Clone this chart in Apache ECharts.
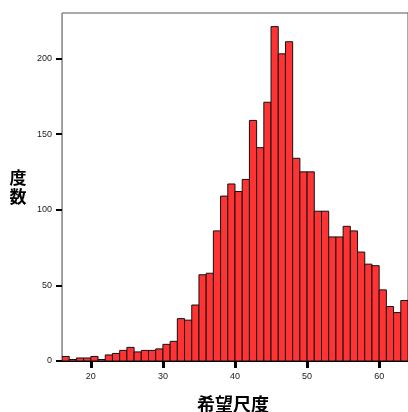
<!DOCTYPE html>
<html>
<head>
<meta charset="utf-8">
<script src="https://cdn.jsdelivr.net/npm/echarts@6/dist/echarts.min.js"></script>
<style>
html,body{margin:0;padding:0;background:#fff;}
#c{width:408px;height:412px;}
</style>
</head>
<body>
<div id="c"></div>
<script>
// Histogram bins: each bin covers [start, start+1)
const binStarts = [16,17,18,19,20,21,22,23,24,25,26,27,28,29,30,31,32,33,34,35,36,37,38,39,40,41,42,43,44,45,46,47,48,49,50,51,52,53,54,55,56,57,58,59,60,61,62,63];
const counts    = [3,1,2,2,3,1,4,5,7,9,6,7,7,8,11,13,28,27,37,57,58,86,109,117,112,120,159,141,171,221,203,211,134,125,125,99,99,82,82,89,86,72,64,63,47,36,32,40];
const xTicks = [20,30,40,50,60];
const yTicks = [0,50,100,150,200];
const xTitle = '希望尺度';
const yTitle = '度\n数';

const data = binStarts.map((s, i) => [s, s + 1, counts[i]]);

const chart = echarts.init(document.getElementById('c'), null, {renderer: 'canvas'});
chart.setOption({
  animation: false,
  backgroundColor: '#fff',
  grid: {
    left: 62, top: 13, width: 348, height: 348,
    show: true, borderColor: '#555', borderWidth: 1, backgroundColor: 'transparent'
  },
  xAxis: {
    type: 'value', min: 16, max: 64,
    axisLine: {show: true, lineStyle: {color: '#000', width: 1}},
    axisTick: {show: true, customValues: xTicks, length: 7, lineStyle: {color: '#000', width: 3}},
    axisLabel: {customValues: xTicks, margin: 11, fontSize: 9, color: '#222', fontFamily: 'Liberation Sans, Arial, sans-serif'},
    splitLine: {show: false}
  },
  yAxis: {
    type: 'value', min: 0, max: 230,
    axisLine: {show: true, lineStyle: {color: '#999', width: 1}},
    axisTick: {show: true, customValues: yTicks, length: 6, lineStyle: {color: '#000', width: 2}},
    axisLabel: {customValues: yTicks, margin: 10, fontSize: 9, color: '#222', fontFamily: 'Liberation Sans, Arial, sans-serif'},
    splitLine: {show: false}
  },
  series: [{
    type: 'custom',
    data: data,
    encode: {x: [0, 1], y: 2},
    clip: true,
    renderItem: function (params, api) {
      const p0 = api.coord([api.value(0), 0]);
      const p1 = api.coord([api.value(1), api.value(2)]);
      return {
        type: 'rect',
        shape: {x: p0[0], y: p1[1], width: p1[0] - p0[0], height: p0[1] - p1[1]},
        style: {fill: '#ff3333', stroke: '#111', lineWidth: 1}
      };
    }
  }],
  graphic: [
    {type: 'text', left: null, x: 18, y: 187,
     style: {text: yTitle, font: 'bold 17px "Noto Sans CJK JP"', fill: '#000', align: 'center', verticalAlign: 'middle', lineHeight: 19}},
    {type: 'text', x: 233, y: 404,
     style: {text: xTitle, font: 'bold 18px "Noto Sans CJK JP"', fill: '#000', align: 'center', verticalAlign: 'middle'}}
  ]
});
</script>
</body>
</html>
